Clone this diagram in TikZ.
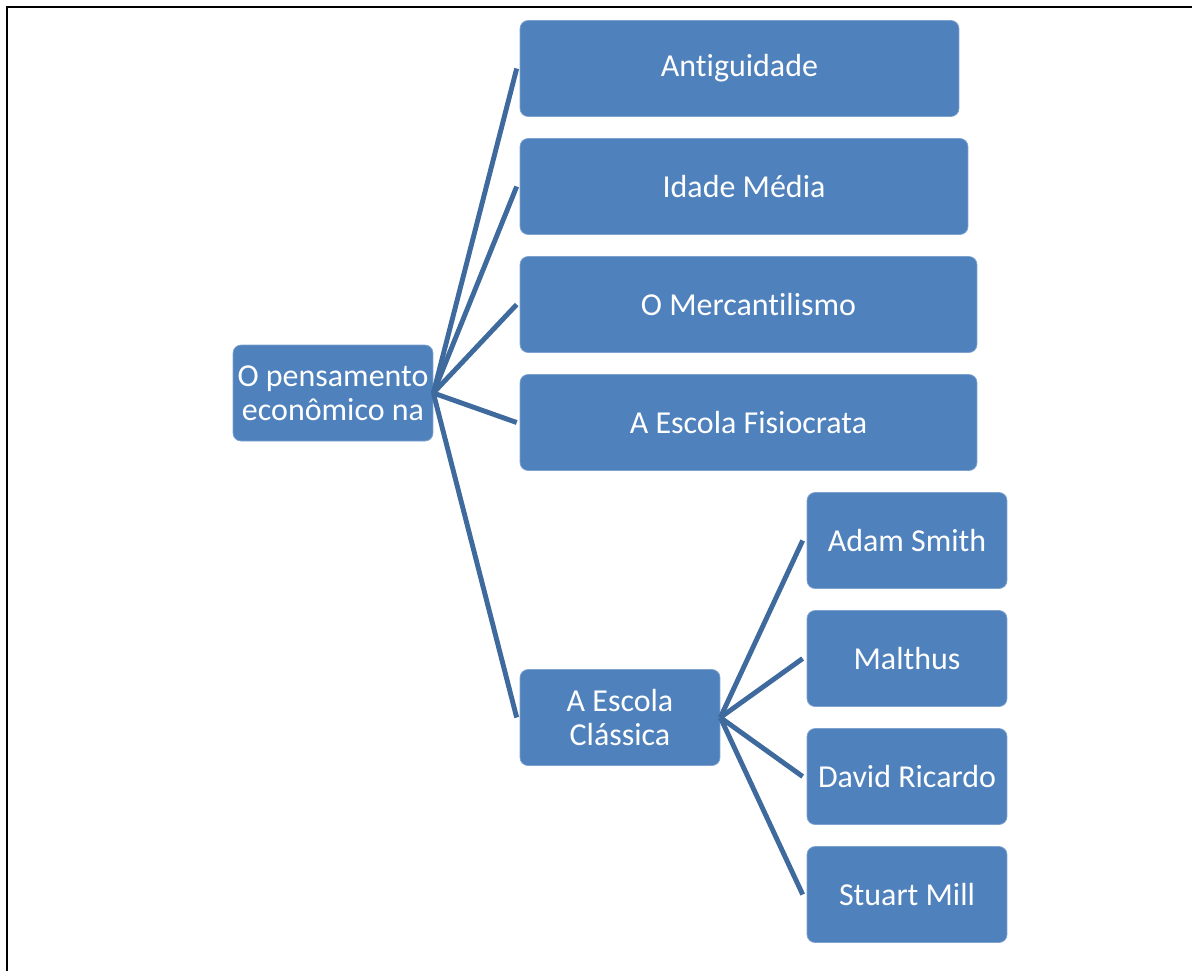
\documentclass[tikz,border=0pt]{standalone}
\usepackage{fontspec}
\setmainfont{Carlito}[Ligatures=NoCommon]

\definecolor{boxblue}{HTML}{4F81BD}
\definecolor{boxedge}{HTML}{7EA2CF}
\definecolor{linkblue}{HTML}{3F6A9D}

\begin{document}
\begin{tikzpicture}[x=0.02cm, y=-0.02cm,
  topic/.style={draw=boxedge, line width=0.4pt, fill=boxblue, rounded corners=0.16cm,
    text=white, font=\fontsize{18.2}{19.6}\selectfont, align=center,
    minimum height=1.92cm, inner sep=2pt},
  branch/.style={draw=linkblue, line width=2.8pt}]
\useasboundingbox (0, 0) rectangle (1192, 971);
\draw [line width=1.7pt] (6, 7) -- (1192, 7);
\draw [line width=1.7pt] (7, 6) -- (7, 971);
% main topic and its periods
\node [topic, minimum width=4cm] (root) at (333, 393) {O pensamento\\econ\^omico na};
\node [topic, minimum width=8.78cm] (anti) at (739.5, 68.5) {Antiguidade};
\node [topic, minimum width=8.96cm] (media) at (744, 186.5) {Idade M\'edia};
\node [topic, minimum width=9.14cm] (merc) at (748.5, 304.5) {O Mercantilismo};
\node [topic, minimum width=9.14cm] (fisio) at (748.5, 422.5) {A Escola Fisiocrata};
\node [topic, minimum width=4cm] (class) at (620, 717.5) {A Escola\\Cl\'assica};
% authors of the classical school
\node [topic, minimum width=4cm] (smith) at (907, 540.5) {Adam Smith};
\node [topic, minimum width=4cm] (malthus) at (907, 658.5) {Malthus};
\node [topic, minimum width=4cm] (ricardo) at (907, 776.5) {David Ricardo};
\node [topic, minimum width=4cm] (mill) at (907, 894.5) {Stuart Mill};
\foreach \t in {anti, media, merc, fisio, class}{\draw [branch] (root.east) -- ([xshift=-0.06cm]\t.west);}
\foreach \t in {smith, malthus, ricardo, mill}{\draw [branch] (class.east) -- ([xshift=-0.08cm]\t.west);}
\end{tikzpicture}
\end{document}
